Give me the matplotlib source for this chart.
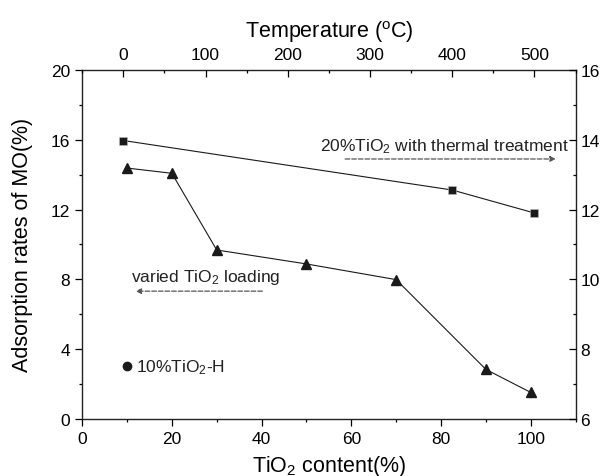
import matplotlib
matplotlib.use("Agg")
import matplotlib.pyplot as plt
from matplotlib.ticker import MultipleLocator

plt.rcParams['font.family'] = ['Liberation Sans', 'DejaVu Sans']
plt.rcParams['mathtext.fontset'] = 'custom'
plt.rcParams['mathtext.rm'] = 'Liberation Sans'
plt.rcParams['mathtext.it'] = 'Liberation Sans:italic'

# varied TiO2 loading (bottom x / left y)
loading = [10, 20, 30, 50, 70, 90, 100]
loading_rate = [14.38, 14.08, 9.68, 8.88, 7.98, 2.83, 1.51]

# 10%TiO2-H single point
h_x = [10]
h_rate = [3.05]

# 20%TiO2 thermal treatment (top x / right y)
temp = [0, 400, 500]
temp_rate = [13.98, 12.56, 11.9]

fig = plt.figure(figsize=(6.04, 4.77), dpi=100)
pos = [0.136, 0.12, 0.817, 0.731]
ax = fig.add_axes(pos)
axT = fig.add_axes(pos, frameon=False)

ink = "#1a1a1a"
ax.plot(loading, loading_rate, color=ink, lw=0.8, marker="^", ms=7.5,
        mfc=ink, mec=ink)
ax.plot(h_x, h_rate, ls="none", marker="o", ms=6, color=ink)
axT.plot(temp, temp_rate, color=ink, lw=0.8, marker="s", ms=5.8,
         mfc=ink, mec="#bbbbbb", mew=0.4)

ax.set_xlim(0, 110)
ax.set_ylim(0, 20)
ax.xaxis.set_major_locator(MultipleLocator(20))
ax.xaxis.set_minor_locator(MultipleLocator(10))
ax.yaxis.set_major_locator(MultipleLocator(4))
ax.yaxis.set_minor_locator(MultipleLocator(2))
ax.tick_params(which="both", direction="out", labelsize=12.5, width=0.9)
ax.tick_params(which="major", length=5)
ax.tick_params(which="minor", length=2.5)
ax.set_xlabel(r"TiO$_\mathregular{2}$ content(%)", fontsize=15.5, labelpad=5)
ax.set_ylabel("Adsorption rates of MO(%)", fontsize=15.5, labelpad=13)

axT.set_xlim(-50, 550)
axT.set_ylim(6, 16)
axT.xaxis.tick_top()
axT.yaxis.tick_right()
axT.xaxis.set_label_position("top")
axT.xaxis.set_major_locator(MultipleLocator(100))
axT.xaxis.set_minor_locator(MultipleLocator(50))
axT.yaxis.set_major_locator(MultipleLocator(2))
axT.yaxis.set_minor_locator(MultipleLocator(1))
axT.tick_params(which="both", direction="in", labelsize=12.5, width=0.9)
axT.tick_params(which="major", length=5)
axT.tick_params(which="minor", length=2.5)
axT.tick_params(axis="x", pad=6)
axT.set_xlabel(r"Temperature ($^\mathregular{o}$C)", fontsize=15.5, labelpad=7)

for s in ax.spines.values():
    s.set_linewidth(1.0)
    s.set_color("#222222")

ax.text(12.0, 3.0, r"10%TiO$_\mathregular{2}$-H", fontsize=12.5, va="center",
        color="#222222")
ax.text(10.8, 8.15, r"varied TiO$_\mathregular{2}$ loading", fontsize=12.5,
        va="center", color="#222222")
ax.annotate("", xy=(11.3, 7.32), xytext=(40.8, 7.32),
            arrowprops=dict(arrowstyle="-|>", ls="--", color="#555555",
                            lw=0.9, mutation_scale=8))
ax.text(53.1, 15.65, r"20%TiO$_\mathregular{2}$ with thermal treatment",
        fontsize=12.5, va="center", color="#222222")
ax.annotate("", xy=(106.2, 14.9), xytext=(58.0, 14.9),
            arrowprops=dict(arrowstyle="-|>", ls="--", color="#555555",
                            lw=0.9, mutation_scale=8))

fig.savefig("out.png", dpi=100)
